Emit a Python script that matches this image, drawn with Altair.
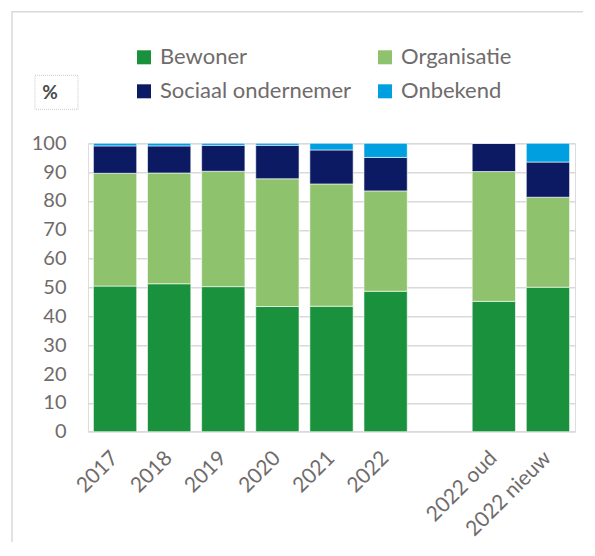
import altair as alt
import pandas as pd

categories = ["2017", "2018", "2019", "2020", "2021", "2022", " ", "2022 oud", "2022 nieuw"]
bar_categories = ["2017", "2018", "2019", "2020", "2021", "2022", "2022 oud", "2022 nieuw"]
series = ["Bewoner", "Organisatie", "Sociaal ondernemer", "Onbekend"]
colors = ["#1A913C", "#8FC26C", "#0C1A63", "#009FE0"]

bewoner = [50.5, 51.3, 50.3, 43.4, 43.5, 48.7, 45.2, 50.1]
organisatie = [39.1, 38.4, 40.0, 44.3, 42.4, 34.8, 45.0, 31.2]
sociaal = [9.5, 9.4, 9.0, 11.6, 11.8, 11.6, 9.8, 12.2]
onbekend = [0.9, 0.9, 0.7, 0.7, 2.3, 4.9, 0.0, 6.5]

rows = []
for s_i, (name, vals) in enumerate(zip(series, [bewoner, organisatie, sociaal, onbekend])):
    for c, v in zip(bar_categories, vals):
        rows.append({"cat": c, "series": name, "value": v, "ord": s_i})
df = pd.DataFrame(rows)

TEXT = "#6F6B6B"
GRID = "#D9D9D9"
FONT = "Lato"

one = pd.DataFrame({"a": [0]})

bars = alt.Chart(df).mark_bar(stroke="white", strokeWidth=0.6).encode(
    x=alt.X("cat:N", sort=categories,
            scale=alt.Scale(domain=categories, paddingInner=0.2, paddingOuter=0.1),
            axis=alt.Axis(title=None, labelAngle=-45, labelAlign="right", labelBaseline="middle",
                          labelPadding=23, ticks=False, tickSize=0, domain=False, grid=False,
                          labelFont=FONT, labelFontSize=21, labelColor=TEXT)),
    y=alt.Y("value:Q", stack="zero",
            scale=alt.Scale(domain=[0, 100], nice=False),
            axis=alt.Axis(title=None, values=list(range(0, 101, 10)), ticks=False, tickSize=0,
                          domain=False, grid=True, gridColor=GRID, gridWidth=1.5,
                          labelPadding=22, labelFont=FONT, labelFontSize=20, labelColor=TEXT)),
    color=alt.Color("series:N", scale=alt.Scale(domain=series, range=colors),
                    legend=alt.Legend(title=None, orient="none", legendX=45, legendY=-97,
                                      direction="horizontal",
                                      columns=2, columnPadding=22, rowPadding=12, padding=0,
                                      symbolType="square", symbolSize=196, symbolStrokeWidth=0,
                                      labelFont=FONT, labelFontSize=22, labelColor=TEXT,
                                      labelOffset=5, labelLimit=400)),
    order=alt.Order("ord:Q"),
)

frame = alt.Chart(one).mark_rect(fill=None, stroke=GRID, strokeWidth=1.5).encode(
    x=alt.value(-76), x2=alt.value(700), y=alt.value(-131.5), y2=alt.value(700))

pct_box = alt.Chart(one).mark_rect(fill="white", stroke="#C8C8C8", strokeDash=[1, 1], strokeWidth=1).encode(
    x=alt.value(-53), x2=alt.value(-10), y=alt.value(-68), y2=alt.value(-34))
pct_text = alt.Chart(one).mark_text(text="%", font=FONT, fontSize=19, fontWeight="bold",
                                    color="#4A4A4A", align="center", baseline="middle").encode(
    x=alt.value(-38), y=alt.value(-50))

chart = alt.layer(frame, pct_box, pct_text, bars).properties(
    width=487, height=288.4,
    padding={"left": 80, "top": 135.3, "right": 8, "bottom": 110},
    autosize=alt.AutoSizeParams(type="none"),
).configure_view(stroke=None).configure(background="white")

chart.save("out.html", embed_options={"renderer": "svg", "actions": False})
